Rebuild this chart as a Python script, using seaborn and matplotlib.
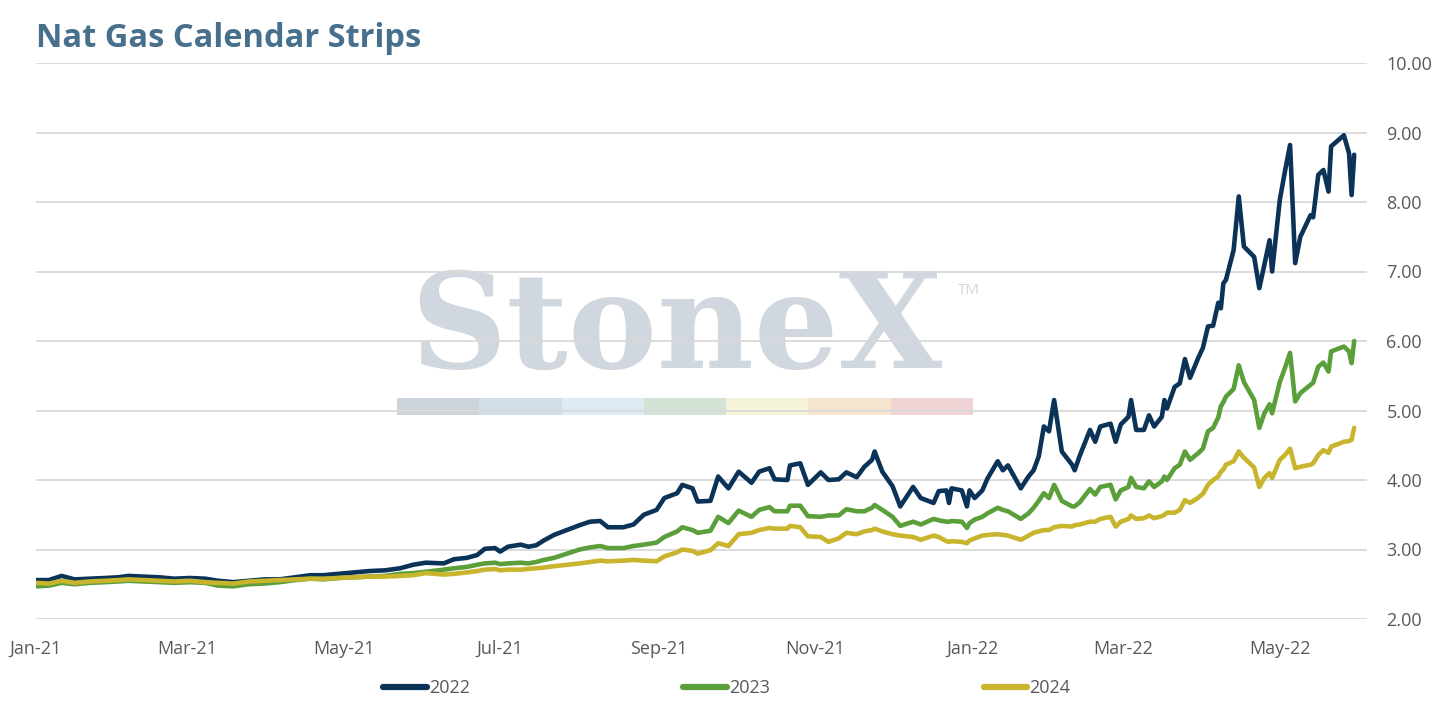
import pandas as pd
import matplotlib
matplotlib.use("Agg")
import matplotlib.pyplot as plt
import matplotlib.dates as mdates
from matplotlib.patches import Rectangle
import seaborn as sns

# ---- data ----
dates = [
    "2021-01-01", "2021-01-06", "2021-01-11", "2021-01-16", "2021-01-22", "2021-01-28",
    "2021-02-02", "2021-02-06", "2021-02-12", "2021-02-18", "2021-02-24", "2021-03-02",
    "2021-03-08", "2021-03-13", "2021-03-19", "2021-03-25", "2021-03-31", "2021-04-06",
    "2021-04-12", "2021-04-18", "2021-04-23", "2021-04-29", "2021-05-05", "2021-05-11",
    "2021-05-17", "2021-05-23", "2021-05-28", "2021-06-02", "2021-06-09", "2021-06-13",
    "2021-06-18", "2021-06-22", "2021-06-25", "2021-06-29", "2021-07-01", "2021-07-04",
    "2021-07-09", "2021-07-12", "2021-07-15", "2021-07-18", "2021-07-22", "2021-07-27",
    "2021-08-01", "2021-08-05", "2021-08-09", "2021-08-12", "2021-08-18", "2021-08-22",
    "2021-08-26", "2021-08-31", "2021-09-03", "2021-09-08", "2021-09-10", "2021-09-14",
    "2021-09-16", "2021-09-21", "2021-09-24", "2021-09-28", "2021-10-02", "2021-10-07",
    "2021-10-10", "2021-10-14", "2021-10-16", "2021-10-21", "2021-10-22", "2021-10-26",
    "2021-10-29", "2021-11-03", "2021-11-06", "2021-11-10", "2021-11-13", "2021-11-17",
    "2021-11-20", "2021-11-23", "2021-11-24", "2021-11-27", "2021-12-01", "2021-12-04",
    "2021-12-09", "2021-12-12", "2021-12-17", "2021-12-19", "2021-12-22", "2021-12-23",
    "2021-12-24", "2021-12-28", "2021-12-30", "2021-12-31", "2022-01-02", "2022-01-05",
    "2022-01-07", "2022-01-11", "2022-01-13", "2022-01-15", "2022-01-20", "2022-01-23",
    "2022-01-25", "2022-01-27", "2022-01-29", "2022-01-31", "2022-02-02", "2022-02-05",
    "2022-02-09", "2022-02-10", "2022-02-12", "2022-02-16", "2022-02-18", "2022-02-20",
    "2022-02-24", "2022-02-26", "2022-02-28", "2022-03-03", "2022-03-04", "2022-03-06",
    "2022-03-09", "2022-03-11", "2022-03-13", "2022-03-16", "2022-03-17", "2022-03-18",
    "2022-03-21", "2022-03-23", "2022-03-25", "2022-03-27", "2022-03-30", "2022-04-01",
    "2022-04-03", "2022-04-05", "2022-04-07", "2022-04-08", "2022-04-09", "2022-04-10",
    "2022-04-13", "2022-04-15", "2022-04-17", "2022-04-21", "2022-04-23", "2022-04-25",
    "2022-04-27", "2022-04-28", "2022-05-01", "2022-05-03", "2022-05-05", "2022-05-07",
    "2022-05-09", "2022-05-13", "2022-05-14", "2022-05-16", "2022-05-18", "2022-05-20",
    "2022-05-21", "2022-05-26", "2022-05-28", "2022-05-29", "2022-05-30",
]

strip_2022 = [
    2.56, 2.56, 2.62, 2.57, 2.58, 2.59, 2.60, 2.62, 2.61, 2.60, 2.58, 2.59,
    2.58, 2.55, 2.53, 2.55, 2.57, 2.57, 2.60, 2.63, 2.63, 2.65, 2.67, 2.69,
    2.70, 2.73, 2.78, 2.81, 2.80, 2.86, 2.88, 2.92, 3.01, 3.02, 2.97, 3.04,
    3.07, 3.04, 3.06, 3.13, 3.21, 3.28, 3.35, 3.40, 3.41, 3.32, 3.32, 3.36,
    3.50, 3.57, 3.74, 3.81, 3.93, 3.88, 3.69, 3.70, 4.05, 3.88, 4.12, 3.96,
    4.12, 4.17, 4.01, 4.00, 4.21, 4.24, 3.93, 4.11, 4.00, 4.01, 4.11, 4.04,
    4.19, 4.29, 4.41, 4.12, 3.91, 3.62, 3.90, 3.74, 3.67, 3.84, 3.85, 3.67,
    3.88, 3.85, 3.62, 3.85, 3.74, 3.85, 4.02, 4.27, 4.14, 4.21, 3.88, 4.05,
    4.14, 4.34, 4.77, 4.70, 5.15, 4.41, 4.22, 4.14, 4.35, 4.72, 4.55, 4.77,
    4.81, 4.55, 4.80, 4.91, 5.15, 4.72, 4.72, 4.93, 4.77, 4.91, 5.15, 5.03,
    5.34, 5.39, 5.74, 5.47, 5.74, 5.90, 6.21, 6.22, 6.55, 6.47, 6.83, 6.88,
    7.31, 8.08, 7.36, 7.21, 6.76, 7.10, 7.45, 7.00, 8.03, 8.44, 8.82, 7.12,
    7.50, 7.81, 7.78, 8.39, 8.46, 8.15, 8.80, 8.96, 8.70, 8.10, 8.68,
]

strip_2023 = [
    2.47, 2.48, 2.52, 2.50, 2.52, 2.53, 2.54, 2.55, 2.54, 2.53, 2.52, 2.53,
    2.52, 2.48, 2.47, 2.50, 2.51, 2.53, 2.56, 2.58, 2.57, 2.59, 2.60, 2.61,
    2.62, 2.65, 2.66, 2.68, 2.71, 2.73, 2.75, 2.78, 2.80, 2.81, 2.79, 2.80,
    2.81, 2.80, 2.82, 2.85, 2.88, 2.94, 3.00, 3.03, 3.05, 3.02, 3.02, 3.05,
    3.07, 3.10, 3.18, 3.26, 3.32, 3.28, 3.24, 3.27, 3.47, 3.38, 3.56, 3.47,
    3.57, 3.61, 3.55, 3.55, 3.63, 3.63, 3.48, 3.47, 3.49, 3.49, 3.58, 3.55,
    3.55, 3.60, 3.64, 3.57, 3.47, 3.34, 3.40, 3.36, 3.44, 3.42, 3.40, 3.40,
    3.41, 3.40, 3.31, 3.38, 3.43, 3.47, 3.52, 3.60, 3.57, 3.55, 3.44, 3.52,
    3.60, 3.70, 3.81, 3.74, 3.93, 3.70, 3.62, 3.62, 3.68, 3.87, 3.79, 3.90,
    3.93, 3.72, 3.85, 3.90, 4.03, 3.90, 3.88, 3.98, 3.90, 3.98, 4.05, 4.00,
    4.17, 4.22, 4.41, 4.29, 4.38, 4.45, 4.70, 4.75, 4.90, 5.06, 5.12, 5.20,
    5.31, 5.65, 5.41, 5.15, 4.75, 4.96, 5.09, 4.96, 5.41, 5.61, 5.83, 5.13,
    5.25, 5.37, 5.40, 5.63, 5.69, 5.56, 5.85, 5.92, 5.85, 5.68, 6.00,
]

strip_2024 = [
    2.52, 2.51, 2.55, 2.52, 2.54, 2.55, 2.56, 2.57, 2.56, 2.55, 2.54, 2.55,
    2.53, 2.52, 2.51, 2.54, 2.55, 2.56, 2.57, 2.58, 2.58, 2.59, 2.60, 2.61,
    2.61, 2.62, 2.63, 2.66, 2.64, 2.65, 2.67, 2.69, 2.71, 2.72, 2.70, 2.71,
    2.71, 2.72, 2.73, 2.74, 2.76, 2.78, 2.80, 2.82, 2.84, 2.83, 2.84, 2.85,
    2.84, 2.83, 2.90, 2.96, 3.00, 2.98, 2.94, 2.99, 3.09, 3.05, 3.22, 3.24,
    3.28, 3.31, 3.30, 3.30, 3.34, 3.32, 3.19, 3.18, 3.11, 3.16, 3.24, 3.22,
    3.26, 3.28, 3.30, 3.26, 3.22, 3.20, 3.18, 3.14, 3.20, 3.18, 3.12, 3.11,
    3.12, 3.11, 3.09, 3.13, 3.16, 3.20, 3.21, 3.22, 3.21, 3.20, 3.14, 3.20,
    3.24, 3.26, 3.28, 3.28, 3.32, 3.34, 3.33, 3.35, 3.36, 3.40, 3.40, 3.44,
    3.47, 3.33, 3.40, 3.44, 3.49, 3.44, 3.45, 3.49, 3.45, 3.48, 3.50, 3.53,
    3.53, 3.57, 3.71, 3.67, 3.74, 3.80, 3.93, 4.00, 4.05, 4.12, 4.15, 4.22,
    4.27, 4.41, 4.32, 4.18, 3.90, 4.03, 4.10, 4.03, 4.29, 4.36, 4.45, 4.17,
    4.19, 4.22, 4.24, 4.36, 4.43, 4.39, 4.48, 4.55, 4.56, 4.58, 4.75,
]

series_names = ["2022", "2023", "2024"]
series_colors = ["#0b3357", "#5b9f3b", "#c8b42d"]
y_ticks = [2, 3, 4, 5, 6, 7, 8, 9, 10]
x_tick_dates = ["2021-01-01", "2021-03-01", "2021-05-01", "2021-07-01", "2021-09-01",
                "2021-11-01", "2022-01-01", "2022-03-01", "2022-05-01"]

# long table for seaborn
df = pd.DataFrame({"Date": pd.to_datetime(dates),
                   "2022": strip_2022, "2023": strip_2023, "2024": strip_2024})
long_df = df.melt(id_vars="Date", var_name="Strip", value_name="Price")

sns.set_theme(style="white")
plt.rcParams["font.family"] = ["Open Sans", "DejaVu Sans"]

fig = plt.figure(figsize=(14.43, 7.09), dpi=100)
ax = fig.add_axes([36 / 1443, 1 - 619 / 709, (1367 - 36) / 1443, (619 - 63) / 709])

# watermark behind everything
ax.text(676 / 1443, 1 - 368 / 709, "StoneX", transform=fig.transFigure,
        ha="center", va="baseline", fontsize=96, fontweight="bold",
        family="DejaVu Serif", color="#d0d7de", zorder=0.1)
ax.text(958 / 1443, 1 - 294 / 709, "TM", transform=fig.transFigure,
        ha="left", va="baseline", fontsize=11, color="#d0d7de", zorder=0.1)
bar_colors = ["#ccd3db", "#d3dde7", "#deebf4", "#d3e3d6", "#f6f4d8", "#f7e6cf", "#efd3d5"]
seg_w = (973 - 397) / len(bar_colors)
for i, c in enumerate(bar_colors):
    ax.add_patch(Rectangle(((397 + i * seg_w) / 1443, 1 - 415 / 709), seg_w / 1443, 17 / 709,
                           transform=fig.transFigure, color=c, lw=0, zorder=0.1))

sns.lineplot(data=long_df, x="Date", y="Price", hue="Strip", hue_order=series_names,
             palette=series_colors, linewidth=3.3, ax=ax, legend=False, zorder=3)
for ln in ax.lines:
    ln.set_solid_joinstyle("round")
    ln.set_solid_capstyle("round")

ax.set_xlim(pd.Timestamp("2021-01-01"), pd.Timestamp("2022-06-04"))
ax.set_ylim(2, 10)
ax.set_yticks(y_ticks)
ax.set_yticklabels([f"{v:.2f}" for v in y_ticks])
ax.set_xticks(pd.to_datetime(x_tick_dates))
ax.xaxis.set_major_formatter(mdates.DateFormatter("%b-%y"))
ax.yaxis.tick_right()
ax.grid(axis="y", color="#d9d9d9", linewidth=1.3, zorder=0.5)
ax.set_axisbelow(True)
for s in ax.spines.values():
    s.set_visible(False)
ax.tick_params(axis="both", length=0, labelsize=13, labelcolor="#595959")
ax.tick_params(axis="x", pad=15)
ax.tick_params(axis="y", pad=14)
ax.set_xlabel("")
ax.set_ylabel("")

fig.text(36 / 1443, 1 - 47 / 709, "Nat Gas Calendar Strips", ha="left", va="baseline",
         fontsize=23.5, fontweight="bold", color="#46708c")

handles = [plt.Line2D([], [], color=c, linewidth=4.5, solid_capstyle="round")
           for c in series_colors]
fig.legend(handles, series_names, loc="center", bbox_to_anchor=(727 / 1443, 1 - 688 / 709),
           ncol=3, frameon=False, fontsize=13, labelcolor="#595959",
           handlelength=2.4, handletextpad=0.15, columnspacing=11.8)

fig.savefig("out.png", dpi=100)
